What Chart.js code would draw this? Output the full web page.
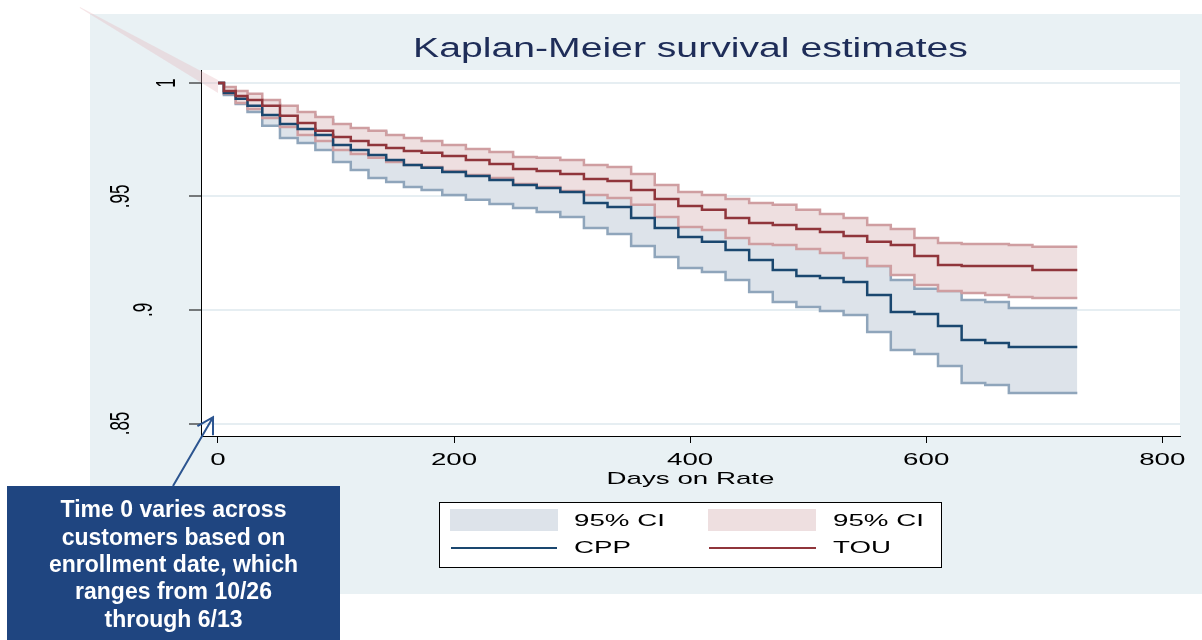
<!DOCTYPE html>
<html>
<head>
<meta charset="utf-8">
<title>Kaplan-Meier survival estimates</title>
<script src="https://cdn.jsdelivr.net/npm/chart.js@4.4.1/dist/chart.umd.min.js"></script>
<style>
    html, body { margin: 0; padding: 0; background: #fff; }
    #wrap { position: relative; width: 1202px; height: 640px; }
</style>
</head>
<body>
<div id="wrap"><canvas id="kmChart"></canvas></div>
<script>
// Jours sur le tarif (axe x)
const days = [0, 10, 20, 30, 45, 60, 75, 90, 105, 120, 135, 150, 165, 180, 200, 220, 240, 260, 280, 300,
    320, 340, 360, 380, 400, 420, 440, 460, 480, 500, 520, 540, 560, 580, 600, 620, 640, 660, 680, 700, 728];

// CPP : estimation et intervalle de confiance à 95%
const cppSurv = [1.0000, 0.9956, 0.9930, 0.9899, 0.9859, 0.9819, 0.9797, 0.9771, 0.9727, 0.9705,
    0.9683, 0.9661, 0.9639, 0.9626, 0.9608, 0.9590, 0.9573, 0.9551, 0.9537, 0.9520,
    0.9471, 0.9454, 0.9405, 0.9361, 0.9322, 0.9300, 0.9264, 0.9220, 0.9176, 0.9150,
    0.9141, 0.9123, 0.9066, 0.8991, 0.8982, 0.8930, 0.8868, 0.8855, 0.8837, 0.8837, 0.8837];
const cppUpper = [1.0000, 0.9965, 0.9952, 0.9925, 0.9907, 0.9881, 0.9859, 0.9837, 0.9802, 0.9793,
    0.9784, 0.9758, 0.9736, 0.9722, 0.9709, 0.9696, 0.9678, 0.9652, 0.9643, 0.9630,
    0.9581, 0.9573, 0.9529, 0.9489, 0.9458, 0.9432, 0.9396, 0.9361, 0.9317, 0.9286,
    0.9286, 0.9269, 0.9194, 0.9132, 0.9093, 0.9084, 0.9044, 0.9035, 0.9009, 0.9009, 0.9009];
const cppLower = [1.0000, 0.9947, 0.9907, 0.9872, 0.9811, 0.9758, 0.9736, 0.9705, 0.9652, 0.9617,
    0.9581, 0.9564, 0.9542, 0.9529, 0.9507, 0.9485, 0.9467, 0.9449, 0.9432, 0.9410,
    0.9361, 0.9335, 0.9282, 0.9233, 0.9185, 0.9167, 0.9132, 0.9079, 0.9035, 0.9013,
    0.8996, 0.8978, 0.8903, 0.8824, 0.8806, 0.8753, 0.8678, 0.8670, 0.8634, 0.8634, 0.8634];

// TOU : estimation et intervalle de confiance à 95%
const touSurv = [1.0000, 0.9965, 0.9943, 0.9925, 0.9899, 0.9855, 0.9824, 0.9789, 0.9762, 0.9744,
    0.9727, 0.9714, 0.9700, 0.9692, 0.9678, 0.9661, 0.9643, 0.9621, 0.9612, 0.9599,
    0.9577, 0.9568, 0.9529, 0.9489, 0.9458, 0.9441, 0.9405, 0.9383, 0.9374, 0.9357,
    0.9344, 0.9326, 0.9300, 0.9286, 0.9238, 0.9198, 0.9194, 0.9194, 0.9194, 0.9176, 0.9176];
const touUpper = [1.0000, 0.9982, 0.9965, 0.9952, 0.9925, 0.9899, 0.9872, 0.9850, 0.9819, 0.9802,
    0.9789, 0.9771, 0.9758, 0.9744, 0.9727, 0.9709, 0.9696, 0.9674, 0.9670, 0.9661,
    0.9639, 0.9630, 0.9599, 0.9551, 0.9520, 0.9507, 0.9489, 0.9471, 0.9463, 0.9441,
    0.9423, 0.9405, 0.9374, 0.9357, 0.9317, 0.9295, 0.9291, 0.9291, 0.9286, 0.9278, 0.9278];
const touLower = [1.0000, 0.9952, 0.9912, 0.9885, 0.9846, 0.9806, 0.9771, 0.9744, 0.9705, 0.9687,
    0.9670, 0.9652, 0.9639, 0.9630, 0.9612, 0.9595, 0.9581, 0.9555, 0.9542, 0.9524,
    0.9507, 0.9493, 0.9463, 0.9410, 0.9366, 0.9352, 0.9317, 0.9291, 0.9286, 0.9269,
    0.9251, 0.9229, 0.9194, 0.9154, 0.9110, 0.9084, 0.9075, 0.9066, 0.9057, 0.9053, 0.9053];

// Graduations
const xTickValues = [0, 200, 400, 600, 800];
const yTickValues = [0.85, 0.9, 0.95, 1];

// Le petit triangle rose qui sort du graphique en haut à gauche
const wedgeDays = [-117, 0];
const wedgeTop = [1.0335, 1.0013];
const wedgeBottom = [1.0330, 0.9956];

const legendLabels = ['95% CI', '95% CI', 'CPP', 'TOU'];
const titleText = 'Kaplan-Meier survival estimates';
const xTitle = 'Days on Rate';
const noteLines = ['Time 0 varies across', 'customers based on', 'enrollment date, which', 'ranges from 10/26', 'through 6/13'];
const arrowTip = { x: -4.2, y: 0.8528 };

const FONT = '"Liberation Sans", Arial, sans-serif';
const STRETCH = 1.63; // le graphique d'origine est étiré en largeur
const PANEL = '#e9f1f4';

const pts = vals => days.map((d, i) => ({ x: d, y: vals[i] }));

function stretchText(ctx, text, x, y, size, color, scaleX, align) {
    ctx.save();
    ctx.translate(x, y);
    ctx.scale(scaleX, 1);
    ctx.font = size + 'px ' + FONT;
    ctx.fillStyle = color;
    ctx.textAlign = align || 'center';
    ctx.textBaseline = 'middle';
    ctx.fillText(text, 0, 0);
    ctx.restore();
}

const decor = {
    id: 'decor',
    beforeDraw(chart) {
        const { ctx, chartArea: ca } = chart;
        ctx.save();
        ctx.fillStyle = '#fff';
        ctx.fillRect(0, 0, chart.width, chart.height);
        ctx.fillStyle = PANEL;
        ctx.fillRect(90, 14, chart.width - 90, 580);
        ctx.fillStyle = '#fff';
        ctx.fillRect(ca.left, ca.top, ca.right - ca.left, ca.bottom - ca.top);
        ctx.restore();
    },
    beforeDatasetsDraw(chart) {
        const { ctx, scales: { x, y } } = chart;
        ctx.save();
        ctx.beginPath();
        wedgeDays.forEach((d, i) => ctx.lineTo(x.getPixelForValue(d), y.getPixelForValue(wedgeTop[i])));
        for (let i = wedgeDays.length - 1; i >= 0; i--) {
            ctx.lineTo(x.getPixelForValue(wedgeDays[i]), y.getPixelForValue(wedgeBottom[i]));
        }
        ctx.closePath();
        ctx.fillStyle = 'rgba(226, 176, 182, 0.32)';
        ctx.fill();
        ctx.restore();
    },
    afterDraw(chart) {
        const { ctx, chartArea: ca, scales: { x, y } } = chart;
        const ds = chart.data.datasets;
        const midX = (ca.left + ca.right) / 2;

        // titre
        stretchText(ctx, titleText, midX, 50, 27, '#1e2d58', 1.45);

        // étiquettes x
        x.ticks.forEach(t => {
            stretchText(ctx, String(t.value), x.getPixelForValue(t.value), ca.bottom + 24, 17, '#000', STRETCH);
        });
        stretchText(ctx, xTitle, midX, ca.bottom + 43, 17, '#000', STRETCH);

        // étiquettes y, tournées
        y.ticks.forEach(t => {
            const label = String(t.value).replace(/^0(?=\.)/, '');
            const cx = ca.left - 11 - 23 * label.length;
            ctx.save();
            ctx.translate(cx, y.getPixelForValue(t.value));
            ctx.scale(STRETCH, 1);
            ctx.rotate(-Math.PI / 2);
            ctx.font = '17px ' + FONT;
            ctx.fillStyle = '#000';
            ctx.textAlign = 'center';
            ctx.textBaseline = 'middle';
            ctx.fillText(label, 0, 0);
            ctx.restore();
        });

        // légende
        ctx.save();
        ctx.fillStyle = '#fff';
        ctx.fillRect(439, 502, 502, 65);
        ctx.strokeStyle = '#000';
        ctx.lineWidth = 1;
        ctx.strokeRect(439.5, 502.5, 502, 65);
        ctx.fillStyle = ds[0].backgroundColor;
        ctx.fillRect(450, 509, 108, 22);
        ctx.fillStyle = ds[2].backgroundColor;
        ctx.fillRect(708, 509, 108, 22);
        ctx.lineWidth = 2;
        ctx.strokeStyle = ds[4].borderColor;
        ctx.beginPath(); ctx.moveTo(451, 548); ctx.lineTo(557, 548); ctx.stroke();
        ctx.strokeStyle = ds[5].borderColor;
        ctx.beginPath(); ctx.moveTo(709, 548); ctx.lineTo(816, 548); ctx.stroke();
        ctx.restore();
        stretchText(ctx, legendLabels[0], 574, 521, 17, '#000', STRETCH, 'left');
        stretchText(ctx, legendLabels[1], 833, 521, 17, '#000', STRETCH, 'left');
        stretchText(ctx, legendLabels[2], 574, 548, 17, '#000', STRETCH, 'left');
        stretchText(ctx, legendLabels[3], 833, 548, 17, '#000', STRETCH, 'left');

        // encadré et flèche
        ctx.save();
        ctx.fillStyle = '#1f4580';
        ctx.fillRect(7, 486, 333, 154);
        ctx.fillStyle = '#fff';
        ctx.font = 'bold 23px ' + FONT;
        ctx.textAlign = 'center';
        ctx.textBaseline = 'middle';
        noteLines.forEach((l, i) => ctx.fillText(l, 173.5, 511 + i * 27.3));

        const tx = x.getPixelForValue(arrowTip.x), ty = y.getPixelForValue(arrowTip.y);
        const bx = 173, by = 486;
        const ang = Math.atan2(by - ty, bx - tx);
        ctx.strokeStyle = '#2c5590';
        ctx.lineWidth = 2;
        ctx.beginPath();
        ctx.moveTo(bx, by); ctx.lineTo(tx, ty);
        ctx.moveTo(tx + 18 * Math.cos(ang + Math.PI / 6), ty + 18 * Math.sin(ang + Math.PI / 6));
        ctx.lineTo(tx, ty);
        ctx.lineTo(tx + 18 * Math.cos(ang - Math.PI / 6), ty + 18 * Math.sin(ang - Math.PI / 6));
        ctx.stroke();
        ctx.restore();
    }
};

const ciBlueLine = '#8fa5bb', ciBlueFill = '#dde3ea';
const ciRedLine = '#cf9ea1', ciRedFill = '#eedfe0';

const lineDs = (vals, color, width, order, fill, bg) => ({
    data: pts(vals),
    borderColor: color,
    backgroundColor: bg || color,
    borderWidth: width,
    stepped: 'middle',
    pointRadius: 0,
    tension: 0,
    fill: fill,
    order: order
});

const kmChart = new Chart(document.getElementById('kmChart').getContext('2d'), {
    type: 'line',
    data: {
        datasets: [
            lineDs(cppLower, ciBlueLine, 2.5, 6, 1, ciBlueFill),
            lineDs(cppUpper, ciBlueLine, 2.5, 5, false),
            lineDs(touLower, ciRedLine, 2.5, 4, 3, ciRedFill),
            lineDs(touUpper, ciRedLine, 2.5, 3, false),
            lineDs(cppSurv, '#1a476f', 2.5, 2, false),
            lineDs(touSurv, '#90353b', 2.5, 1, false)
        ]
    },
    options: {
        responsive: true,
        maintainAspectRatio: false,
        animation: false,
        layout: { padding: { left: 0, top: 70, right: 22, bottom: 0 } },
        plugins: {
            legend: { display: false },
            title: { display: false },
            tooltip: { enabled: false }
        },
        scales: {
            x: {
                type: 'linear',
                min: -14.4,
                max: 815,
                afterFit: s => { s.height = 204; },
                afterBuildTicks: s => { s.ticks = xTickValues.map(v => ({ value: v })); },
                ticks: { color: 'rgba(0,0,0,0)' },
                grid: { drawOnChartArea: false, tickLength: 7, tickColor: '#000', tickWidth: 1 },
                border: { color: '#000', width: 1 }
            },
            y: {
                type: 'linear',
                min: 0.8445,
                max: 1.0057,
                afterFit: s => { s.width = 201; },
                afterBuildTicks: s => { s.ticks = yTickValues.map(v => ({ value: v })); },
                ticks: { color: 'rgba(0,0,0,0)' },
                grid: { color: '#e6eef2', lineWidth: 2, tickLength: 12, tickColor: '#000', tickWidth: 1 },
                border: { color: '#000', width: 1 }
            }
        }
    },
    plugins: [decor]
});
</script>
</body>
</html>
